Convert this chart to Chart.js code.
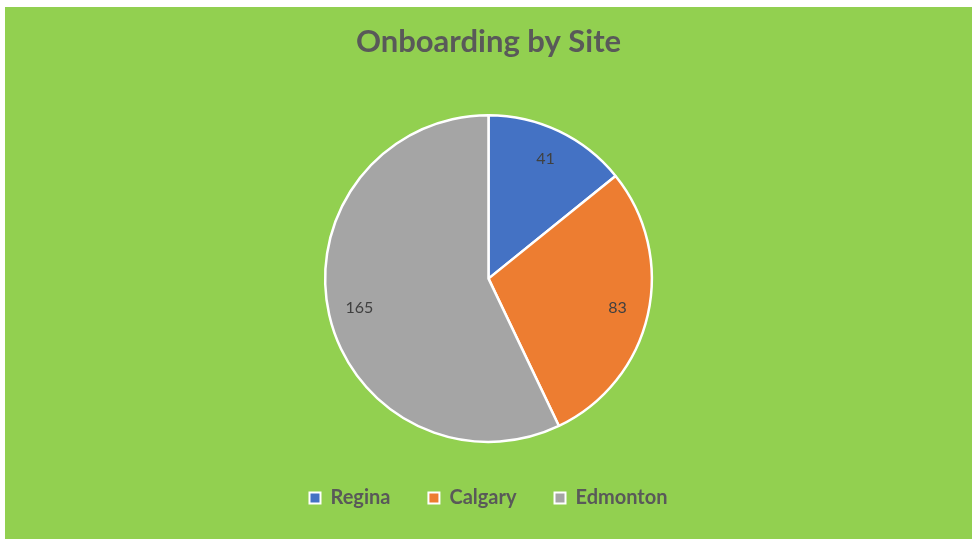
<!DOCTYPE html>
<html>
<head>
<meta charset="utf-8">
<script src="https://cdn.jsdelivr.net/npm/chart.js@4"></script>
<style>
  body { margin: 0; background: #fff; }
  .box { position: absolute; left: 5px; top: 7px; width: 967px; height: 532px; background: #92d050; }
</style>
</head>
<body>
<div class="box"><canvas id="myChart" width="967" height="532"></canvas></div>
<script>
// chart data
const sites = ["Regina", "Calgary", "Edmonton"];
const hires = [41, 83, 165];
const colors = ["#4472c4", "#ed7d31", "#a5a5a5"];

// draw value labels inside the slices
const sliceLabels = {
  id: "sliceLabels",
  afterDatasetsDraw(chart) {
    const ctx = chart.ctx;
    const meta = chart.getDatasetMeta(0);
    ctx.save();
    ctx.font = "16px Lato";
    ctx.fillStyle = "#404040";
    ctx.textAlign = "center";
    ctx.textBaseline = "middle";
    meta.data.forEach((arc, i) => {
      const a = (arc.startAngle + arc.endAngle) / 2;
      const r = arc.outerRadius * 0.81;
      ctx.fillText(hires[i], arc.x + Math.cos(a) * r, arc.y + Math.sin(a) * r);
    });
    ctx.restore();
  }
};

var ctx = document.getElementById("myChart").getContext("2d");

var myChart = new Chart(ctx, {
  type: "pie",
  data: {
    labels: sites,
    datasets: [
      {
        data: hires,
        backgroundColor: colors,
        borderColor: "#ffffff",
        borderWidth: 2.5,
        radius: "96%"
      }
    ]
  },
  options: {
    responsive: false,
    animation: false,
    layout: { padding: { top: 0, bottom: 21 } },
    plugins: {
      title: {
        display: true,
        text: "Onboarding by Site",
        color: "#595959",
        font: { family: "Lato", size: 31, weight: "bold" },
        padding: { top: 16, bottom: 47 }
      },
      legend: {
        position: "bottom",
        labels: {
          color: "#595959",
          font: { family: "Lato", size: 20, weight: "bold" },
          boxWidth: 11,
          boxHeight: 11,
          padding: 38,
          generateLabels(chart) {
            return sites.map((s, i) => ({
              text: s,
              fillStyle: colors[i],
              strokeStyle: "#ffffff",
              fontColor: "#595959",
              lineWidth: 2,
              index: i
            }));
          }
        }
      },
      tooltip: { enabled: false }
    }
  },
  plugins: [sliceLabels]
});
</script>
</body>
</html>
